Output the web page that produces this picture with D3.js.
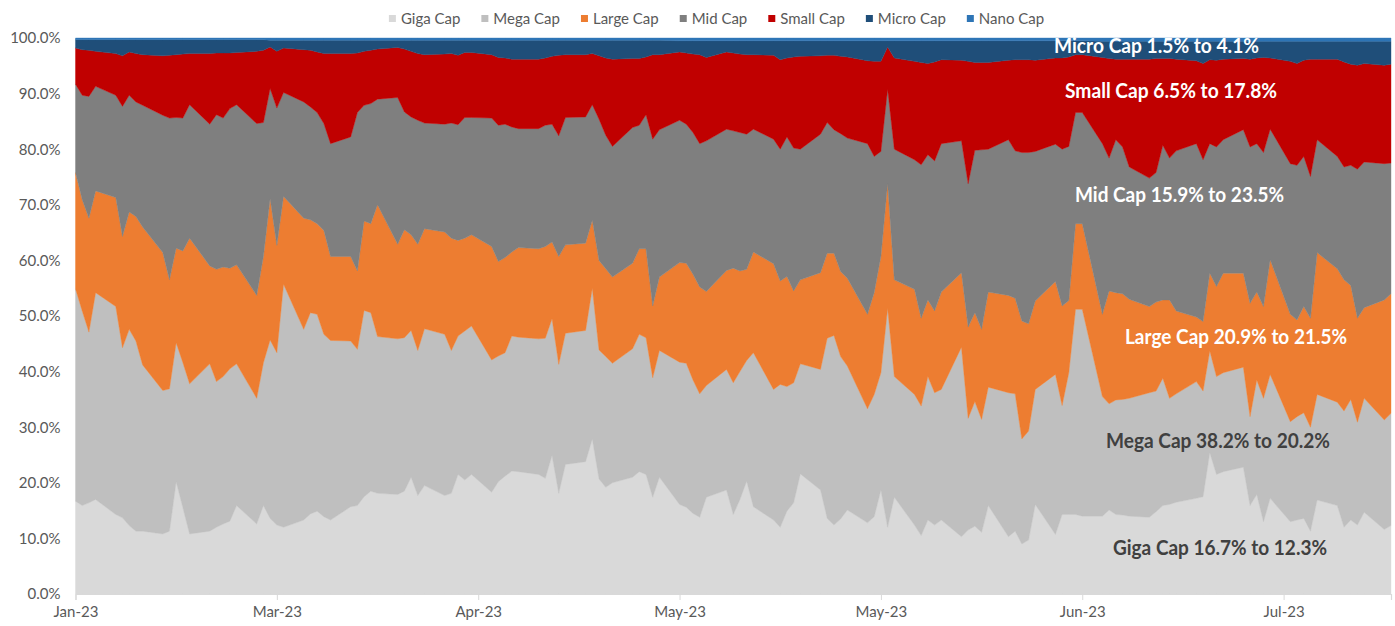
<!DOCTYPE html>
<html>
<head>
<meta charset="utf-8">
<script src="https://cdn.jsdelivr.net/npm/d3@7"></script>
<style>
  body { margin: 0; background: #fff; }
  svg text { font-family: Lato, "Open Sans", sans-serif; }
</style>
</head>
<body>
<div id="chart"></div>
<script>
// trading days shown in the chart, per month
const tradingDays = [
  ["2023-01", [31]],
  ["2023-02", [1,2,3,6,7,8,9,10,13,14,15,16,17,20,21,22,23,24,27,28]],
  ["2023-03", [1,2,3,6,7,8,9,10,13,14,15,16,17,20,21,22,23,24,27,28,29,30,31]],
  ["2023-04", [3,4,5,6,7,10,11,12,13,14,17,18,19,20,21,24,25,26,27,28]],
  ["2023-05", [1,2,3,4,5,8,9,10,11,12,15,16,17,18,19,22,23,24,25,26,29,30,31]],
  ["2023-06", [1,2,5,6,7,8,9,12,13,14,15,16,19,20,21,22,23,26,27,28,29,30]],
  ["2023-07", [3,4,5,6,7,10,11,12,13,14,17,18,19,20,21,24,25,26,27,28,31]],
  ["2023-08", [1,2,3,4,7,8,9,10,11,14,15]]
];

const seriesNames = ["Giga Cap", "Mega Cap", "Large Cap", "Mid Cap", "Small Cap", "Micro Cap", "Nano Cap"];
const colors = ["#D9D9D9", "#BFBFBF", "#ED7D31", "#7F7F7F", "#C00000", "#1F4E79", "#2E75B6"];

// share of total (%) per trading day
const giga = [16.7,15.9,16.4,17.0,14.3,13.7,12.3,11.3,11.3,10.8,11.3,20.2,15.5,10.8,11.3,12.0,12.6,13.1,15.9,12.6,15.9,
  13.6,12.4,12.0,13.3,14.4,14.9,13.9,13.3,15.7,15.9,17.5,18.5,18.1,17.9,18.5,21.0,17.7,19.5,17.7,18.1,21.5,20.5,21.5,
  18.3,20.2,21.2,22.1,22.0,21.5,20.8,24.9,18.1,23.3,23.8,27.9,20.7,19.2,20.0,21.0,22.0,21.5,17.4,21.0,
  16.1,15.6,14.5,13.8,17.4,18.7,14.3,17.0,20.3,15.7,13.3,12.0,14.9,16.4,21.6,18.7,13.6,12.4,13.5,15.1,12.8,13.9,18.7,
  12.0,17.4,12.4,10.5,13.3,12.4,13.3,10.3,11.5,12.2,11.1,15.9,10.3,11.3,9.0,9.7,16.1,10.7,14.3,14.3,14.3,14.0,
  14.0,15.1,14.3,14.2,14.0,13.8,14.8,15.9,16.1,16.5,17.2,17.5,25.4,21.5,22.0,22.8,15.9,17.9,13.0,17.2,13.0,
  13.3,13.6,11.3,16.9,15.9,12.0,13.3,12.4,14.7,11.6,12.3];
const mega = [38.2,35.0,30.7,37.2,37.4,30.6,35.3,34.2,29.9,25.8,25.6,25.0,26.1,27.0,30.1,26.2,26.5,27.4,25.5,22.6,25.7,
  32.1,31.0,43.7,34.3,36.2,35.4,32.8,32.3,29.8,28.1,33.5,32.1,28.2,28.0,27.6,26.4,26.1,28.2,29.0,25.7,24.9,26.8,26.7,
  23.8,22.6,22.2,24.3,24.2,24.4,25.2,24.6,23.2,23.6,23.6,27.1,23.2,23.5,21.5,23.1,24.7,24.6,21.5,22.8,
  25.6,25.9,24.0,22.2,20.1,21.7,23.7,23.0,21.7,27.7,23.5,25.7,22.4,21.6,19.8,21.7,32.4,34.1,29.2,25.9,20.5,22.0,21.1,
  39.4,21.7,23.5,23.3,25.8,23.8,23.5,34.1,20.1,22.4,20.3,21.3,25.9,24.7,18.9,19.6,20.7,28.8,19.6,25.5,36.9,37.2,
  21.5,19.1,20.6,20.8,21.2,22.4,21.7,22.9,19.1,19.5,21.0,19.0,18.3,17.6,17.8,18.0,16.0,20.6,22.2,22.3,18.0,
  18.6,19.0,18.7,19.0,18.6,20.9,21.7,18.5,20.5,19.7,20.2];
const large = [20.9,20.0,20.5,18.3,19.6,20.0,21.1,22.4,24.8,24.8,19.6,17.0,20.1,26.2,17.6,20.2,19.7,18.1,17.8,18.5,19.1,
  25.4,19.3,15.8,20.0,16.7,16.3,18.7,15.1,15.2,14.1,16.1,16.0,23.7,17.0,19.4,17.2,19.1,18.0,18.4,20.2,17.2,16.7,16.4,
  20.4,17.0,17.1,15.1,16.1,16.2,16.5,13.8,19.4,15.9,15.7,12.2,16.1,15.8,15.5,15.4,15.4,16.0,12.9,13.2,
  17.9,18.0,19.0,19.2,16.9,17.8,20.6,18.1,16.4,18.1,22.6,18.6,19.8,16.5,15.1,17.4,15.3,14.8,15.3,15.8,17.0,18.3,20.9,
  22.4,17.4,18.9,15.8,13.8,14.7,17.5,13.4,16.4,16.0,16.2,17.1,17.5,17.2,21.2,19.3,15.9,16.7,17.9,13.0,15.4,15.4,
  14.8,20.3,19.3,19.0,17.8,15.5,16.0,14.1,17.7,14.9,11.6,12.5,14.0,16.2,17.9,16.9,20.4,15.8,16.5,20.6,19.3,
  17.4,19.1,19.6,25.5,24.0,23.6,20.5,18.7,16.3,21.6,21.5];
const mid = [15.9,18.8,21.9,18.8,18.4,23.4,21.0,20.6,21.9,24.7,29.1,23.5,23.9,24.0,25.5,27.8,26.8,28.7,28.8,30.9,24.1,
  19.8,24.7,18.7,20.9,20.3,20.0,19.2,20.3,21.5,28.5,20.8,21.6,19.0,26.4,21.2,21.2,22.3,19.0,19.4,20.7,20.8,21.7,21.1,
  23.1,24.5,24.0,22.5,21.4,21.6,21.8,21.2,21.7,22.9,22.7,20.8,25.4,24.0,23.5,24.4,22.2,24.1,30.0,26.5,
  25.6,25.0,25.5,25.8,27.1,25.4,24.7,24.9,24.3,22.1,22.4,23.7,25.1,25.7,23.5,24.9,23.5,22.2,24.8,25.2,30.7,24.5,18.9,
  17.0,23.5,23.3,27.6,26.1,27.0,26.7,23.7,25.8,29.2,32.3,25.7,28.0,26.5,30.3,30.8,26.9,24.7,28.2,27.7,20.0,20.0,
  30.7,23.9,27.5,26.4,23.8,23.1,23.3,27.8,25.5,28.8,31.2,29.1,23.3,25.1,24.0,25.8,28.1,26.7,27.7,23.5,27.1,
  27.8,27.0,25.5,20.3,20.2,20.3,21.6,26.8,26.2,24.5,23.5];
const small = [6.5,8.2,8.3,6.3,7.5,9.1,7.8,8.7,9.1,10.7,11.3,11.3,11.5,9.2,12.7,11.1,11.7,10.0,9.4,13.0,13.0,
  7.5,10.2,8.0,9.4,10.2,10.9,12.6,16.2,15.0,10.7,9.7,9.6,9.0,9.0,11.3,11.8,12.0,12.3,12.6,12.5,12.5,11.7,11.7,
  11.4,12.2,11.9,12.2,12.5,12.5,12.1,12.2,14.5,11.3,11.2,9.2,11.4,13.9,15.7,12.4,12.0,10.4,15.2,13.5,
  12.3,12.8,14.1,16.0,15.0,13.9,14.0,14.1,14.3,13.4,15.1,16.1,14.2,16.4,16.7,14.1,12.1,13.4,13.9,14.6,14.9,17.1,16.2,
  7.6,16.4,17.7,18.4,16.4,17.8,15.1,14.5,22.0,15.8,15.7,15.6,14.3,16.4,16.7,16.7,16.4,15.5,16.4,16.1,10.4,10.4,
  15.5,17.9,14.5,15.8,19.4,21.4,20.5,15.6,17.9,16.5,14.9,17.3,15.1,15.6,14.5,12.8,15.8,15.4,17.1,12.8,18.4,
  18.3,17.3,21.1,14.5,17.5,18.9,18.2,18.7,17.7,17.7,17.8];
const micro = [1.5,1.8,1.9,2.1,2.5,2.9,2.2,2.5,2.7,2.9,2.8,2.7,2.6,2.5,2.5,2.4,2.4,2.4,2.3,2.1,1.9,
  1.2,2.0,1.4,1.7,1.8,2.1,2.4,2.4,2.4,2.3,2.0,1.8,1.6,1.3,1.6,2.0,2.4,2.6,2.5,2.4,2.7,2.2,2.2,
  2.6,3.1,3.2,3.4,3.4,3.4,3.2,2.9,2.7,2.6,2.6,2.4,2.8,3.2,3.4,3.3,3.3,3.0,2.6,2.6,
  2.0,2.2,2.4,2.5,3.0,2.0,2.2,2.4,2.5,2.5,2.6,3.4,3.1,2.9,2.8,2.7,2.6,2.6,2.8,2.9,3.6,3.7,3.7,
  1.1,3.1,3.7,3.9,4.1,3.8,3.4,3.5,3.7,3.9,3.9,3.9,3.5,3.4,3.4,3.4,3.5,3.1,3.1,2.9,2.5,2.5,
  2.9,3.1,3.2,3.2,3.2,3.2,3.1,3.1,3.1,3.2,3.5,4.0,3.3,3.4,3.2,3.1,3.2,3.0,2.9,3.0,3.6,
  4.0,3.4,3.2,3.2,3.2,3.7,4.1,4.3,4.0,4.3,4.1];
const nano = [0.3,0.3,0.3,0.3,0.3,0.3,0.3,0.3,0.3,0.3,0.3,0.3,0.3,0.3,0.3,0.3,0.3,0.3,0.3,0.3,0.3,
  0.4,0.4,0.4,0.4,0.4,0.4,0.4,0.4,0.4,0.4,0.4,0.4,0.4,0.4,0.4,0.4,0.4,0.4,0.4,0.4,0.4,0.4,0.4,
  0.4,0.4,0.4,0.4,0.4,0.4,0.4,0.4,0.4,0.4,0.4,0.4,0.4,0.4,0.4,0.4,0.4,0.4,0.4,0.4,
  0.5,0.5,0.5,0.5,0.5,0.5,0.5,0.5,0.5,0.5,0.5,0.5,0.5,0.5,0.5,0.5,0.5,0.5,0.5,0.5,0.5,0.5,0.5,
  0.5,0.5,0.5,0.5,0.5,0.5,0.5,0.5,0.5,0.5,0.5,0.5,0.5,0.5,0.5,0.5,0.5,0.5,0.5,0.5,0.5,0.5,
  0.6,0.6,0.6,0.6,0.6,0.6,0.6,0.6,0.6,0.6,0.6,0.6,0.6,0.6,0.6,0.6,0.6,0.6,0.6,0.6,0.6,
  0.6,0.6,0.6,0.6,0.6,0.6,0.6,0.6,0.6,0.6,0.6];

// axis ticks (Excel date axis, every 30 days)
const tickDates = ["2023-01-31", "2023-03-02", "2023-04-01", "2023-05-01", "2023-05-31", "2023-06-30", "2023-07-30"];
const tickLabels = ["Jan-23", "Mar-23", "Apr-23", "May-23", "May-23", "Jun-23", "Jul-23"];
const yTicks = [0, 10, 20, 30, 40, 50, 60, 70, 80, 90, 100];

const width = 1395;
const height = 626;
const margin = {top: 38, right: 4, bottom: 32, left: 75.5};

const parse = d3.timeParse("%Y-%m-%d");
const dates = tradingDays.flatMap(([m, days]) => days.map(d => parse(m + "-" + String(d).padStart(2, "0"))));
const values = [giga, mega, large, mid, small, micro, nano];

const table = dates.map((d, i) => {
    const row = {date: d};
    seriesNames.forEach((k, j) => row[k] = values[j][i]);
    return row;
});

const svg = d3.select('#chart')
    .append('svg')
    .attr('width', width)
    .attr('height', height)
    .style('display', 'block');

const x = d3.scaleTime()
    .domain(d3.extent(dates))
    .range([margin.left, width - margin.right]);

const y = d3.scaleLinear()
    .domain([0, 100])
    .range([height - margin.bottom, margin.top]);

const stacked = d3.stack().keys(seriesNames)(table);

const area = d3.area()
    .x(d => x(d.data.date))
    .y0(d => y(d[0]))
    .y1(d => y(d[1]));

svg.append('g')
    .selectAll('path')
    .data(stacked)
    .join('path')
    .attr('fill', (d, i) => colors[i])
    .attr('stroke', (d, i) => colors[i])
    .attr('stroke-width', 0.4)
    .attr('d', area);

// x axis
const xAxis = svg.append('g')
    .attr('transform', `translate(0,${height - margin.bottom})`)
    .call(d3.axisBottom(x)
        .tickValues(tickDates.map(parse))
        .tickFormat((d, i) => tickLabels[i])
        .tickSize(6)
        .tickPadding(6));
xAxis.select('.domain').attr('stroke', '#D9D9D9').attr('stroke-width', 1.2);
xAxis.selectAll('.tick line').attr('stroke', '#D9D9D9');
xAxis.selectAll('text')
    .attr('fill', '#595959')
    .style('font-size', '15px');

// y axis
const yAxis = svg.append('g')
    .attr('transform', `translate(${margin.left},0)`)
    .call(d3.axisLeft(y)
        .tickValues(yTicks)
        .tickFormat(d => d.toFixed(1) + '%')
        .tickSize(0)
        .tickPadding(15));
yAxis.select('.domain').remove();
yAxis.selectAll('text')
    .attr('fill', '#595959')
    .style('font-size', '15px');

// legend
const legend = svg.append('g');
let lx = 0;
seriesNames.forEach((name, i) => {
    legend.append('rect')
        .attr('x', lx)
        .attr('y', -4)
        .attr('width', 7)
        .attr('height', 7)
        .attr('fill', colors[i]);
    const t = legend.append('text')
        .attr('x', lx + 12)
        .attr('y', 5)
        .attr('fill', '#595959')
        .style('font-size', '15px')
        .text(name);
    lx += 12 + t.node().getComputedTextLength() + 21;
});
lx -= 21;
legend.attr('transform', `translate(${716.5 - lx / 2},19)`);

// range annotations, first -> last value of each series
const notes = [
    {i: 5, x: 1054, y: 53, w: 205, color: '#ffffff'},
    {i: 4, x: 1065, y: 98, w: 212, color: '#ffffff'},
    {i: 3, x: 1075, y: 202, w: 209, color: '#ffffff'},
    {i: 2, x: 1125, y: 344, w: 222, color: '#ffffff'},
    {i: 1, x: 1106, y: 448, w: 224, color: '#404040'},
    {i: 0, x: 1113, y: 555, w: 214, color: '#404040'}
];

svg.append('g')
    .selectAll('text')
    .data(notes)
    .join('text')
    .attr('x', d => d.x)
    .attr('y', d => d.y)
    .attr('fill', d => d.color)
    .attr('textLength', d => d.w)
    .attr('lengthAdjust', 'spacingAndGlyphs')
    .style('font-size', '20px')
    .style('font-weight', 'bold')
    .text(d => {
        const s = values[d.i];
        return `${seriesNames[d.i]} ${s[0].toFixed(1)}% to ${s[s.length - 1].toFixed(1)}%`;
    });
</script>
</body>
</html>
